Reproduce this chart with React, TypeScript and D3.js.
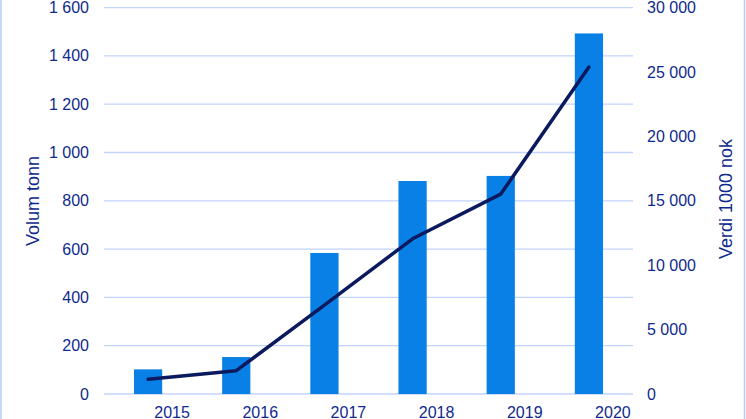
import React, { useRef, useEffect } from 'react';
import * as d3 from 'd3';

const years = ['2015', '2016', '2017', '2018', '2019', '2020'];
const volume = [102, 153, 584, 882, 903, 1493];
const value = [1140, 1810, 6900, 12050, 15520, 25380];
const leftTicks = [0, 200, 400, 600, 800, 1000, 1200, 1400, 1600];
const rightTicks = [0, 5000, 10000, 15000, 20000, 25000, 30000];

const W = 746;
const H = 419;
const TEXT = '#0f2a8c';
const fmt = (v: number) => d3.format(',')(v).replace(/,/g, ' ');

export default function App() {
  const ref = useRef<SVGSVGElement | null>(null);

  useEffect(() => {
    const svg = d3.select(ref.current);
    svg.selectAll('*').remove();

    const margin = { top: 7.6, right: 113, bottom: 25, left: 104 };
    const width = W - margin.left - margin.right;
    const height = H - margin.top - margin.bottom;

    const x = d3.scaleBand().domain(years).range([0, width]).paddingInner(0.68).paddingOuter(0.34);
    const yL = d3.scaleLinear().domain([0, 1600]).range([height, 0]);
    const yR = d3.scaleLinear().domain([0, 30000]).range([height, 0]);

    // frame edges
    svg.append('line').attr('x1', 1).attr('x2', 1).attr('y1', 0).attr('y2', H)
      .attr('stroke', '#b7c9fb').attr('stroke-width', 1.5);
    svg.append('line').attr('x1', 744.5).attr('x2', 744.5).attr('y1', 0).attr('y2', H)
      .attr('stroke', '#b7c9fb').attr('stroke-width', 1.5);

    const chart = svg.append('g').attr('transform', `translate(${margin.left},${margin.top})`);

    // grid
    chart.append('g').selectAll('line').data(leftTicks).join('line')
      .attr('x1', 0).attr('x2', width)
      .attr('y1', d => yL(d)).attr('y2', d => yL(d))
      .attr('stroke', '#c2d3fd').attr('stroke-width', 1.3);

    // bars
    chart.append('g').selectAll('rect').data(volume).join('rect')
      .attr('x', (_, i) => x(years[i])!)
      .attr('y', d => yL(d))
      .attr('width', x.bandwidth())
      .attr('height', d => height - yL(d))
      .attr('fill', '#0880e6');

    // line
    const line = d3.line<number>()
      .x((_, i) => x(years[i])! + x.bandwidth() / 2)
      .y(d => yR(d));
    chart.append('path').datum(value)
      .attr('d', line)
      .attr('fill', 'none')
      .attr('stroke', '#0b1a5e')
      .attr('stroke-width', 3.5)
      .attr('stroke-linecap', 'round')
      .attr('stroke-linejoin', 'round');

    const font = 'Liberation Sans, Arial, sans-serif';

    // left ticks
    chart.append('g').selectAll('text').data(leftTicks).join('text')
      .attr('x', -15).attr('y', d => yL(d)).attr('dy', '0.35em')
      .attr('text-anchor', 'end')
      .attr('font-family', font).attr('font-size', 16).attr('fill', TEXT)
      .text(d => fmt(d));

    // right ticks
    chart.append('g').selectAll('text').data(rightTicks).join('text')
      .attr('x', width + 14).attr('y', d => yR(d)).attr('dy', '0.35em')
      .attr('text-anchor', 'start')
      .attr('font-family', font).attr('font-size', 16).attr('fill', TEXT)
      .text(d => fmt(d));

    // x labels (shifted right as in the source)
    chart.append('g').selectAll('text').data(years).join('text')
      .attr('x', d => x(d)! + x.bandwidth() / 2 + 24)
      .attr('y', height + 24)
      .attr('text-anchor', 'middle')
      .attr('font-family', font).attr('font-size', 16).attr('fill', TEXT)
      .text(d => d);

    // axis titles
    svg.append('text')
      .attr('transform', `translate(39,201) rotate(-90)`)
      .attr('text-anchor', 'middle')
      .attr('font-family', font).attr('font-size', 18).attr('fill', TEXT)
      .text('Volum tonn');
    svg.append('text')
      .attr('transform', `translate(732,199) rotate(-90)`)
      .attr('text-anchor', 'middle')
      .attr('font-family', font).attr('font-size', 18).attr('fill', TEXT)
      .text('Verdi 1000 nok');
  }, []);

  return (
    <svg ref={ref} width={W} height={H}
      style={{ position: 'absolute', left: 0, top: 0, background: '#fff' }} />
  );
}
